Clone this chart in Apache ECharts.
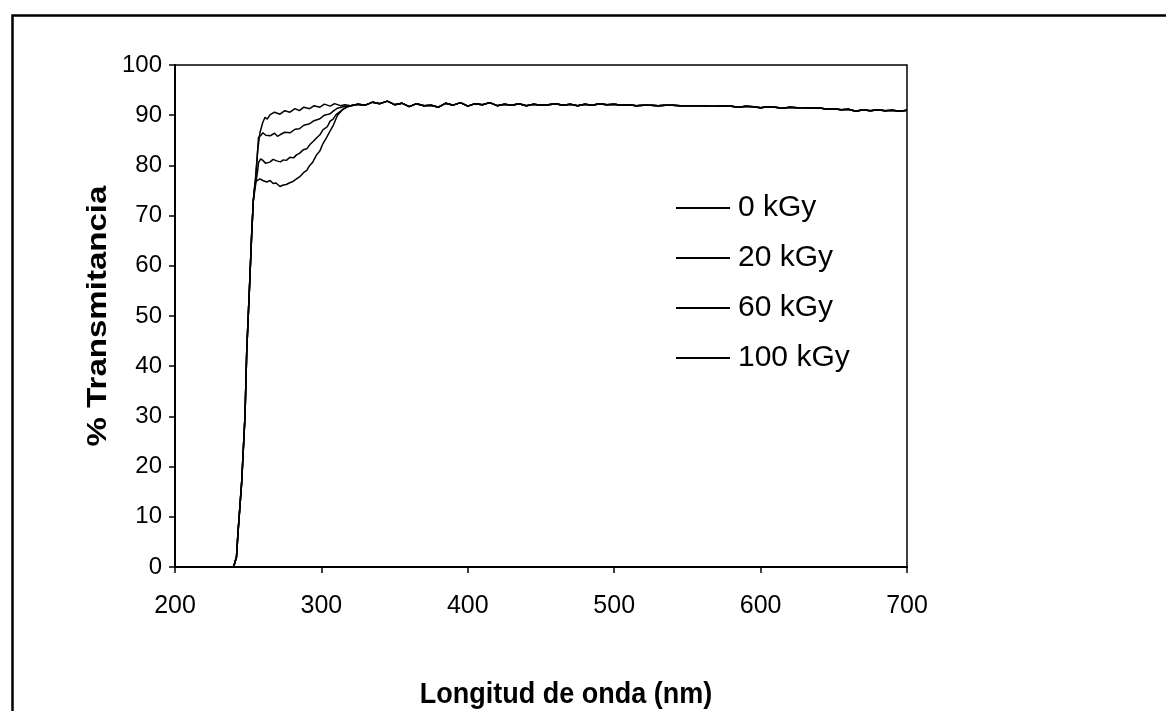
<!DOCTYPE html>
<html><head><meta charset="utf-8">
<script src="https://cdn.jsdelivr.net/npm/echarts@6/dist/echarts.min.js"></script>
<style>html,body{margin:0;padding:0;background:#fff}#c{width:1166px;height:711px}</style>
</head><body><div id="c"></div>
<script>
const seriesNames = ['0 kGy', '20 kGy', '60 kGy', '100 kGy'];
const xTitle = 'Longitud de onda (nm)';
const yTitle = '% Transmitancia';
const xTicks = [200, 300, 400, 500, 600, 700];
const yTicks = [0, 10, 20, 30, 40, 50, 60, 70, 80, 90, 100];

// shared absorption edge (nm, %T)
const riseNm = [200, 240, 242, 243, 245.5, 247.8, 249, 251, 252.4, 253.5];
const riseT  = [0, 0, 2, 6.7, 16.7, 30, 43, 56.5, 66.5, 73];

// per-dose knee region
const kGy0Nm = [255, 256.5, 258, 260, 261.5, 263, 265, 268, 271.7, 275, 278.5, 282, 285, 288, 292, 295, 299, 302, 306, 309, 313, 316];
const kGy0T  = [77.5, 83, 86.5, 88.6, 89.6, 89.2, 90.1, 90.6, 90.2, 90.9, 90.6, 91.3, 90.9, 91.6, 91.3, 91.9, 91.6, 92.2, 91.8, 92.3, 91.9, 92.1];

const kGy20Nm = [255, 256, 257, 259, 260, 262, 263, 265, 268, 270, 271.7, 275, 278.5, 282, 285, 288, 292, 295, 299, 302, 306, 309, 311, 316];
const kGy20T  = [77, 81, 85.5, 86.1, 86.5, 86.0, 86.3, 85.9, 86.4, 85.8, 86.1, 86.6, 86.5, 87.2, 87.3, 88.0, 88.3, 88.9, 89.3, 90.0, 90.3, 91.0, 91.4, 91.8];

const kGy60Nm = [255, 256.5, 257, 258.5, 260, 262, 265, 267, 269.5, 272, 274, 276, 278.5, 281, 283, 285, 287.6, 290, 292, 294.5, 296.8, 299, 301, 304, 306, 308, 310, 314, 318];
const kGy60T  = [76, 79, 80.5, 81.3, 81, 80.4, 80.7, 81.2, 80.9, 80.7, 81.1, 81.0, 81.6, 81.5, 82.1, 82.4, 83.1, 83.3, 84.1, 84.8, 85.5, 86.1, 87.1, 87.7, 88.8, 89.2, 90.1, 91.0, 91.7];

const kGy100Nm = [254.6, 255.8, 258, 260, 262.6, 265, 267, 269, 271.7, 274, 276, 278, 280.6, 283, 285, 288, 290, 292, 294, 296.5, 299, 301, 303.6, 306, 308, 311, 315];
const kGy100T  = [76.5, 76.9, 77.3, 77.0, 76.7, 77.0, 76.4, 76.5, 75.8, 76.1, 76.2, 76.5, 76.8, 77.3, 77.7, 78.6, 79.0, 80.0, 80.6, 82.0, 82.9, 84.3, 85.6, 86.9, 87.9, 90.0, 91.3];

// shared plateau
const plateauNm = [320,325,330,335,340,345,350,355,360,365,370,375,380,385,390,395,400,405,410,415,420,425,430,435,440,445,450,455,460,465,470,475,480,485,490,495,500,505,510,515,520,525,530,535,540,545,550,555,560,565,570,575,580,585,590,595,600,605,610,615,620,625,630,635,640,645,650,655,660,665,670,675,680,685,690,695,700];
const plateauT  = [91.9,92.2,92.0,92.6,92.3,92.8,92.1,92.4,91.7,92.3,91.9,92.0,91.6,92.4,92.0,92.5,91.8,92.3,92.1,92.5,91.9,92.2,92.0,92.3,91.9,92.2,92.0,92.1,92.3,92.0,92.2,91.9,92.2,92.0,92.3,92.1,92.2,92.0,92.1,91.9,92.0,92.0,91.9,92.0,92.0,91.9,91.9,91.9,91.9,91.8,91.8,91.9,91.8,91.6,91.8,91.7,91.5,91.7,91.6,91.4,91.6,91.5,91.5,91.4,91.5,91.2,91.3,91.1,91.2,90.8,91.1,90.9,91.1,90.9,91.0,90.8,91.0];

function build(nm, t) {
  const out = [];
  riseNm.forEach((x, i) => out.push([x, riseT[i]]));
  nm.forEach((x, i) => out.push([x, t[i]]));
  plateauNm.forEach((x, i) => out.push([x, plateauT[i]]));
  return out;
}
const dataSets = [build(kGy0Nm, kGy0T), build(kGy20Nm, kGy20T), build(kGy60Nm, kGy60T), build(kGy100Nm, kGy100T)];

const FONT = '"Liberation Sans", Arial, sans-serif';
const chart = echarts.init(document.getElementById('c'), null, {renderer: 'canvas'});
chart.setOption({
  animation: false,
  backgroundColor: '#fff',
  grid: {left: 175, right: 259, top: 65, bottom: 144, show: true, borderColor: '#000', borderWidth: 1.5, backgroundColor: 'transparent'},
  xAxis: {
    type: 'value', min: 200, max: 700, interval: 100,
    axisLine: {show: true, onZero: false, lineStyle: {color: '#000', width: 2}},
    axisTick: {show: true, inside: false, length: 6, lineStyle: {color: '#000', width: 1.5}},
    axisLabel: {fontFamily: FONT, fontSize: 25, color: '#000', margin: 27, formatter: v => xTicks.includes(v) ? String(v) : ''},
    splitLine: {show: false}
  },
  yAxis: {
    type: 'value', min: 0, max: 100, interval: 10,
    axisLine: {show: true, onZero: false, lineStyle: {color: '#000', width: 2}},
    axisTick: {show: true, inside: false, length: 6, lineStyle: {color: '#000', width: 1.5}},
    axisLabel: {fontFamily: FONT, fontSize: 24, color: '#000', margin: 13, formatter: v => yTicks.includes(v) ? String(v) : ''},
    splitLine: {show: false}
  },
  legend: {
    orient: 'vertical', left: 671, top: 187,
    itemWidth: 54, itemHeight: 2, itemGap: 18, icon: 'rect',
    textStyle: {fontFamily: FONT, fontSize: 30, color: '#000', lineHeight: 32, padding: [0, 0, 0, 3]},
    data: seriesNames
  },
  graphic: [
    {type: 'rect', left: 10, top: 13, shape: {width: 1200, height: 800},
     style: {fill: 'none', stroke: '#000', lineWidth: 2.5}, silent: true},
    {type: 'text', x: 566, y: 695, style: {text: xTitle, font: 'bold 27px ' + FONT, fill: '#000', align: 'center', verticalAlign: 'middle'}, scaleY: 1.1},
    {type: 'text', x: 98, y: 316, rotation: Math.PI / 2, scaleX: 1.18,
     style: {text: yTitle, font: 'bold 28px ' + FONT, fill: '#000', align: 'center', verticalAlign: 'middle'}}
  ],
  series: seriesNames.map((n, i) => ({
    name: n, type: 'line', data: dataSets[i], showSymbol: false, symbol: 'none',
    lineStyle: {color: '#000', width: 1.5}, itemStyle: {color: '#000'}
  }))
});
</script></body></html>
